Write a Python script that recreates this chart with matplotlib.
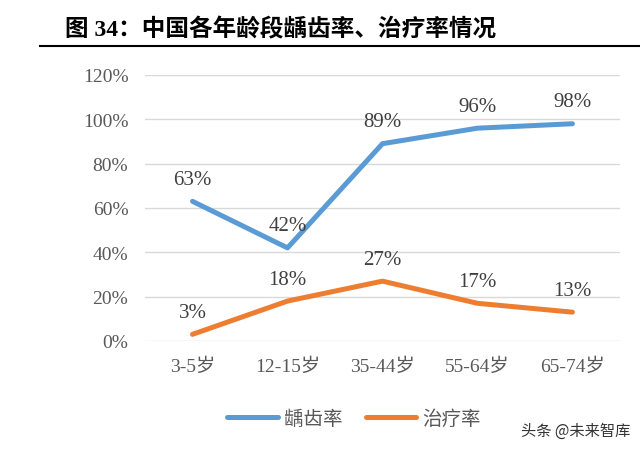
import matplotlib.pyplot as plt
import numpy as np

# data
ages = ['3-5岁', '12-15岁', '35-44岁', '55-64岁', '65-74岁']
caries = [0.63, 0.42, 0.89, 0.96, 0.98]
treat = [0.03, 0.18, 0.27, 0.17, 0.13]
yticks = [0, 0.2, 0.4, 0.6, 0.8, 1.0, 1.2]

fam = ['Liberation Serif', 'Noto Sans CJK SC']
plt.rcParams['font.family'] = fam

fig = plt.figure(figsize=(6.4, 4.52), dpi=100)
ax = fig.add_axes([0.2266, 0.2434, 0.742, 0.5885])

x = np.arange(len(ages))
ax.plot(x, caries, color='#5B9BD5', lw=3.6, solid_capstyle='round', label='龋齿率')
ax.plot(x, treat, color='#ED7D31', lw=3.6, solid_capstyle='round', label='治疗率')

for xi, v in zip(x, caries):
    ax.annotate('%d%%' % round(v * 100), (xi, v), xytext=(0, 9), textcoords='offset points',
                ha='center', va='bottom', fontsize=15, color='#404040')
for xi, v in zip(x, treat):
    ax.annotate('%d%%' % round(v * 100), (xi, v), xytext=(0, 9), textcoords='offset points',
                ha='center', va='bottom', fontsize=15, color='#404040')

ax.set_xlim(-0.5, len(ages) - 0.5)
ax.set_ylim(0, 1.2)
ax.set_yticks(yticks)
ax.set_yticklabels(['%d%%' % round(t * 100) for t in yticks], fontsize=14, color='#595959')
ax.set_xticks(x)
ax.set_xticklabels(ages, fontsize=14, color='#595959')
ax.tick_params(length=0, pad=12)
ax.tick_params(axis='y', pad=12)
ax.grid(axis='y', color='#D9D9D9', lw=1)
ax.set_axisbelow(True)
for s in ax.spines.values():
    s.set_visible(False)

leg = ax.legend(loc='upper center', bbox_to_anchor=(0.44, -0.19), ncol=2, frameon=False,
                fontsize=14, handlelength=2.6, columnspacing=1.2, handletextpad=0.3)
for t in leg.get_texts():
    t.set_color('#595959')

fig.text(0.102, 0.935, '图 34：中国各年龄段龋齿率、治疗率情况', fontsize=17, fontweight='bold',
         ha='left', va='center', color='black')
fig.add_artist(plt.Line2D([0.063, 1.0], [0.895, 0.895], color='black', lw=1.5))

fig.text(0.985, 0.045, '头条 @未来智库', fontsize=11, ha='right', va='center', color='#333333',
         family='Noto Sans CJK SC')

fig.savefig('out.png', dpi=100)
